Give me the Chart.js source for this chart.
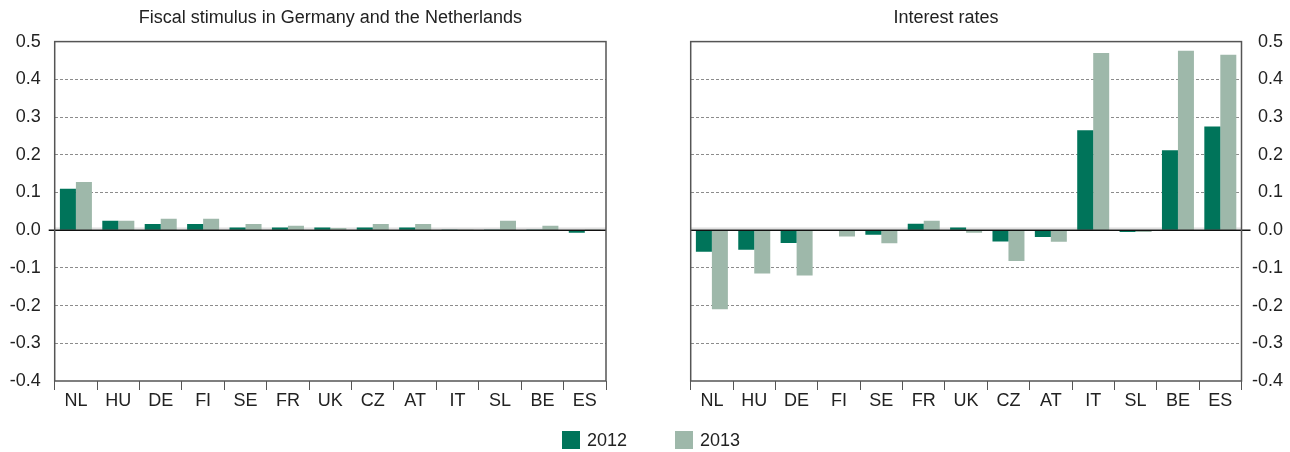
<!DOCTYPE html>
<html>
<head>
<meta charset="utf-8">
<script src="https://cdn.jsdelivr.net/npm/chart.js@4.4.1/dist/chart.umd.min.js"></script>
<style>
  html, body { margin: 0; padding: 0; background: #fff; }
  body { width: 1290px; height: 452px; position: relative; overflow: hidden; font-family: 'Liberation Sans', Arial, sans-serif; }
  .panel { position: absolute; top: 0; height: 452px; }
  #left { left: 0; width: 609px; }
  #right { left: 609px; width: 681px; }
  #legend { position: absolute; top: 431px; left: 562px; display: flex; font-size: 18px; color: #222; line-height: 18px; }
  #legend .item { display: flex; align-items: center; margin-right: 48px; }
  #legend .swatch { width: 18px; height: 18px; margin-right: 7px; }
</style>
</head>
<body>
<div class="panel" id="left"><canvas id="fiscal-chart"></canvas></div>
<div class="panel" id="right"><canvas id="rates-chart"></canvas></div>
<div id="legend"></div>
<script>
const categories = ['NL', 'HU', 'DE', 'FI', 'SE', 'FR', 'UK', 'CZ', 'AT', 'IT', 'SL', 'BE', 'ES'];
const seriesNames = ['2012', '2013'];
const fiscal2012 = [0.11, 0.025, 0.016, 0.016, 0.007, 0.007, 0.007, 0.007, 0.007, 0.002, 0.002, 0.002, -0.007];
const fiscal2013 = [0.128, 0.025, 0.03, 0.03, 0.016, 0.012, 0.006, 0.016, 0.016, 0.002, 0.025, 0.012, 0.002];
const rates2012 = [-0.057, -0.052, -0.034, -0.002, -0.012, 0.017, 0.007, -0.03, -0.018, 0.265, -0.005, 0.212, 0.275];
const rates2013 = [-0.21, -0.115, -0.12, -0.017, -0.035, 0.025, -0.007, -0.082, -0.031, 0.47, -0.005, 0.476, 0.465];
const yMin = -0.4;
const yMax = 0.5;
const yStep = 0.1;

const COLORS = ['#00745a', '#9eb8aa'];

Chart.defaults.font.family = "'Liberation Sans', Arial, sans-serif";
Chart.defaults.font.size = 18;
Chart.defaults.color = '#222';

const fmtTick = v => (Math.abs(v) < 1e-9 ? '0.0' : v.toFixed(1));
const gridColor = ctx => {
  const v = ctx.tick ? ctx.tick.value : null;
  if (v === null || Math.abs(v) < 1e-9 || Math.abs(v - yMax) < 1e-9 || Math.abs(v - yMin) < 1e-9) return 'rgba(0,0,0,0)';
  return '#8c8c8c';
};

// frame round the plot area, zero line and its small tick
const framePlugin = {
  id: 'frame',
  beforeDatasetsDraw(chart) {
    const { ctx, chartArea: a } = chart;
    const y0 = chart.scales.y.getPixelForValue(0);
    ctx.save();
    ctx.strokeStyle = '#d0d0d0';
    ctx.lineWidth = 1;
    ctx.beginPath();
    ctx.moveTo(a.left, y0 - 2);
    ctx.lineTo(a.right, y0 - 2);
    ctx.stroke();
    ctx.restore();
  },
  afterDatasetsDraw(chart, args, opts) {
    const { ctx, chartArea: a } = chart;
    const y0 = chart.scales.y.getPixelForValue(0);
    ctx.save();
    ctx.strokeStyle = '#111';
    ctx.lineWidth = 1.5;
    ctx.beginPath();
    ctx.moveTo(a.left - (opts.tickLeft || 0), y0);
    ctx.lineTo(a.right + (opts.tickRight || 0), y0);
    ctx.stroke();
    ctx.strokeStyle = '#555';
    ctx.lineWidth = 1.5;
    ctx.strokeRect(a.left, a.top, a.right - a.left, a.bottom - a.top);
    ctx.restore();
  },
};

function datasets(a, b) {
  return [a, b].map((data, i) => ({
    label: seriesNames[i],
    data,
    backgroundColor: COLORS[i],
    borderWidth: 0,
    categoryPercentage: 0.755,
    barPercentage: 1.0,
  }));
}

const xScale = {
  grid: { offset: true, drawOnChartArea: false, tickLength: 9, tickColor: '#555', lineWidth: 1 },
  border: { display: false },
  ticks: { padding: 0, autoSkip: false, maxRotation: 0 },
  afterFit: s => { s.height = 71; },
};

new Chart(document.getElementById('fiscal-chart'), {
  type: 'bar',
  data: { labels: categories, datasets: datasets(fiscal2012, fiscal2013) },
  options: {
    responsive: true,
    maintainAspectRatio: false,
    animation: false,
    layout: { padding: { top: 0, right: 3, bottom: 0, left: 0 } },
    plugins: {
      legend: { display: false },
      tooltip: { enabled: false },
      title: {
        display: true,
        text: 'Fiscal stimulus in Germany and the Netherlands',
        fullSize: false,
        font: { size: 18, weight: 'normal' },
        color: '#222',
        padding: { top: 7, bottom: 13 },
      },
      frame: { tickLeft: 6, tickRight: 0 },
    },
    scales: {
      x: xScale,
      y: {
        min: yMin, max: yMax,
        ticks: { stepSize: yStep, padding: 14, callback: fmtTick },
        grid: { color: gridColor, drawTicks: false, lineWidth: 1 },
        border: { display: false, dash: [3, 2] },
        afterFit: s => { s.width = 54.7; },
      },
    },
  },
  plugins: [framePlugin],
});

new Chart(document.getElementById('rates-chart'), {
  type: 'bar',
  data: { labels: categories, datasets: datasets(rates2012, rates2013) },
  options: {
    responsive: true,
    maintainAspectRatio: false,
    animation: false,
    layout: { padding: { top: 0, right: 7, bottom: 0, left: 0 } },
    plugins: {
      legend: { display: false },
      tooltip: { enabled: false },
      title: {
        display: true,
        text: 'Interest rates',
        font: { size: 18, weight: 'normal' },
        color: '#222',
        padding: { top: 7, bottom: 13 },
      },
      frame: { tickLeft: 0, tickRight: 9 },
    },
    scales: {
      x: xScale,
      y: {
        min: yMin, max: yMax,
        ticks: { display: false, stepSize: yStep },
        grid: { color: gridColor, drawTicks: false, lineWidth: 1 },
        border: { display: false, dash: [3, 2] },
        afterFit: s => { s.width = 81.7; },
      },
      y2: {
        position: 'right',
        min: yMin, max: yMax,
        ticks: { stepSize: yStep, crossAlign: 'far', callback: fmtTick },
        grid: { display: false, drawTicks: false },
        border: { display: false },
        afterFit: s => { s.width = 41.5; },
      },
    },
  },
  plugins: [framePlugin],
});

document.getElementById('legend').innerHTML = seriesNames.map((name, i) =>
  `<div class="item"><span class="swatch" style="background:${COLORS[i]}"></span><span>${name}</span></div>`
).join('');
</script>
</body>
</html>
